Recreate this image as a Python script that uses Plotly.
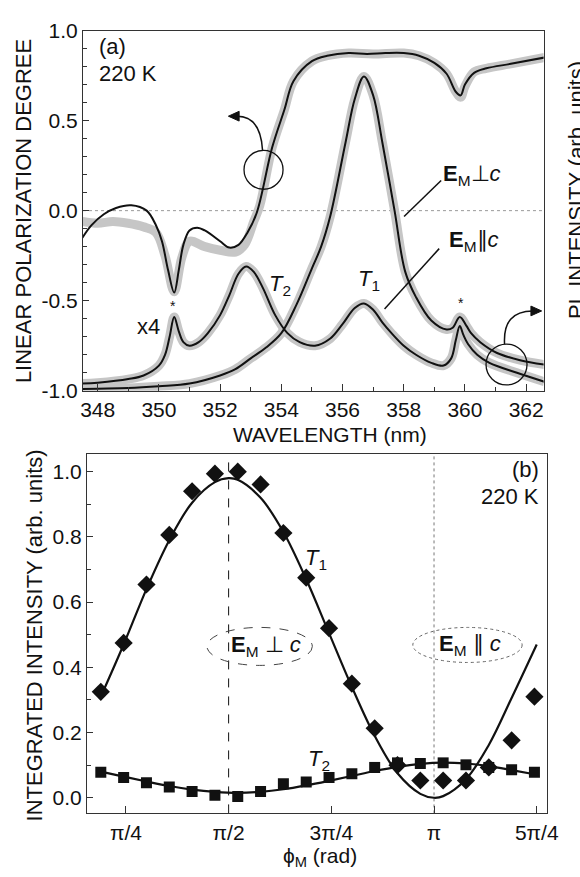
import numpy as np
import plotly.graph_objects as go

W, H = 580, 877
FONT = "Liberation Sans"

# ---------------- panel (a) data ----------------
# linear polarization degree: measured (grey) and fit (black)
lpd_data_wl = [347.5, 348.0, 348.5, 349.0, 349.5, 349.9, 350.2, 350.5, 350.75, 351.0, 351.5, 352.0,
               352.5, 352.8, 353.1, 353.3, 353.7, 354.1, 354.4, 355.0, 355.5, 356.2, 357.0, 358.0,
               358.5, 359.0, 359.4, 359.7, 359.86, 360.0, 360.3, 360.7, 361.5, 362.6]
lpd_data = [-0.06, -0.07, -0.06, -0.07, -0.09, -0.12, -0.25, -0.45, -0.26, -0.17, -0.20, -0.22,
            -0.23, -0.19, -0.06, 0.03, 0.35, 0.56, 0.72, 0.83, 0.86, 0.875, 0.87, 0.875,
            0.86, 0.82, 0.76, 0.66, 0.63, 0.69, 0.77, 0.79, 0.815, 0.85]

lpd_fit_wl = [347.5, 347.8, 348.2, 348.6, 349.1, 349.6, 349.9, 350.1, 350.3, 350.5, 350.65, 350.8,
              351.0, 351.25, 351.5, 352.0, 352.3, 352.6, 352.9, 353.2, 353.7, 354.1, 354.4, 355.0,
              355.5, 356.2, 356.8, 357.4, 358.0, 358.5, 359.0, 359.4, 359.7, 359.86, 360.0, 360.3,
              360.7, 361.5, 362.6]
lpd_fit = [-0.15, -0.08, -0.02, 0.015, 0.03, 0.0, -0.08, -0.17, -0.33, -0.455, -0.33, -0.19,
           -0.11, -0.095, -0.11, -0.17, -0.205, -0.19, -0.12, -0.01, 0.35, 0.56, 0.72, 0.83,
           0.86, 0.875, 0.87, 0.875, 0.875, 0.86, 0.82, 0.76, 0.66, 0.64, 0.70, 0.765,
           0.79, 0.815, 0.85]

# PL intensity (arb. units), E_M perpendicular to c
pl_perp_wl = [347.5, 348.0, 349.0, 350.0, 351.0, 352.0, 352.5, 353.0, 353.5, 354.0, 354.5, 355.0,
              355.3, 355.6, 356.1, 356.4, 356.7, 357.0, 357.3, 357.7, 358.05, 358.4, 358.9, 359.4,
              359.6, 359.83, 360.05, 360.2, 360.5, 361.05, 361.8, 362.6]
pl_perp = [0.005, 0.006, 0.0075, 0.0125, 0.02, 0.0425, 0.06, 0.09, 0.12, 0.16, 0.24, 0.34,
           0.40, 0.485, 0.69, 0.81, 0.8725, 0.82, 0.69, 0.50, 0.33, 0.26, 0.195, 0.17,
           0.175, 0.205, 0.18, 0.16, 0.135, 0.105, 0.085, 0.0725]

# PL intensity (arb. units), E_M parallel to c (x4)
pl_par_wl = [347.5, 348.0, 349.0, 349.5, 350.0, 350.2, 350.35, 350.5, 350.65, 350.8, 351.0, 351.3,
             351.6, 352.0, 352.3, 352.6, 352.85, 353.1, 353.4, 353.8, 354.2, 354.6, 355.1, 355.6,
             356.0, 356.4, 356.7, 357.0, 357.3, 357.6, 358.0, 358.4, 358.9, 359.3, 359.55, 359.7,
             359.83, 359.95, 360.1, 360.4, 360.8, 361.7, 362.6]
pl_par = [0.02, 0.0225, 0.0325, 0.0425, 0.07, 0.10, 0.15, 0.205, 0.165, 0.135, 0.125, 0.135,
          0.16, 0.21, 0.265, 0.325, 0.345, 0.33, 0.285, 0.21, 0.16, 0.135, 0.125, 0.145,
          0.185, 0.23, 0.2425, 0.225, 0.19, 0.16, 0.125, 0.10, 0.0775, 0.07, 0.09, 0.14,
          0.18, 0.155, 0.13, 0.10, 0.0775, 0.05, 0.025]

wl_ticks = [348, 350, 352, 354, 356, 358, 360, 362]
lpd_ticks = [-1.0, -0.5, 0.0, 0.5, 1.0]
lpd_ticktext = ["-1.0", "-0.5", "0.0", "0.5", "1.0"]

# ---------------- panel (b) data ----------------
phi_deg = [34, 44, 54, 64, 74, 84, 94, 104, 114, 124, 134, 144, 154, 164, 174, 184, 194, 204, 214, 224]
t1_int = [0.325, 0.475, 0.654, 0.806, 0.94, 0.994, 1.0, 0.961, 0.812, 0.675, 0.52, 0.35,
          0.213, 0.10, 0.053, 0.053, 0.053, 0.093, 0.176, 0.31]
t2_int = [0.078, 0.062, 0.046, 0.033, 0.019, 0.008, 0.004, 0.019, 0.043, 0.048, 0.062, 0.074,
          0.093, 0.107, 0.105, 0.107, 0.101, 0.093, 0.086, 0.078]

t1_fit_deg = [34, 44, 54, 64, 74, 84, 90, 94, 104, 114, 124, 134, 144, 154, 164, 174, 180,
              184, 194, 204, 214, 225]
t1_fit = [0.31, 0.47, 0.64, 0.79, 0.905, 0.968, 0.98, 0.975, 0.92, 0.815, 0.67, 0.505, 0.34,
          0.19, 0.075, 0.012, 0.0, 0.005, 0.057, 0.162, 0.306, 0.47]
t2_fit_deg = [34, 44, 54, 64, 74, 84, 94, 104, 114, 124, 134, 144, 154, 164, 174, 184, 194,
              204, 214, 224]
t2_fit = [0.08, 0.065, 0.05, 0.036, 0.025, 0.018, 0.015, 0.018, 0.026, 0.038, 0.052, 0.067,
          0.082, 0.095, 0.104, 0.108, 0.105, 0.097, 0.085, 0.072]

phi_tickvals = [np.pi / 4, np.pi / 2, 3 * np.pi / 4, np.pi, 5 * np.pi / 4]
phi_ticktext = ["π/4", "π/2", "3π/4", "π", "5π/4"]
int_ticks = [0.0, 0.2, 0.4, 0.6, 0.8, 1.0]
int_ticktext = ["0.0", "0.2", "0.4", "0.6", "0.8", "1.0"]

GREY = "#c6c6c6"
BLACK = "#111111"


def PX(x):
    return x / W


def PY(y):
    return 1 - y / H


fig = go.Figure()

# panel (a) traces
fig.add_trace(go.Scatter(x=pl_perp_wl, y=pl_perp, xaxis="x", yaxis="y3", mode="lines",
                         line=dict(color=GREY, width=9, shape="spline"), hoverinfo="skip"))
fig.add_trace(go.Scatter(x=pl_par_wl, y=pl_par, xaxis="x", yaxis="y3", mode="lines",
                         line=dict(color=GREY, width=9, shape="spline"), hoverinfo="skip"))
fig.add_trace(go.Scatter(x=lpd_data_wl, y=lpd_data, xaxis="x", yaxis="y", mode="lines",
                         line=dict(color=GREY, width=9, shape="spline"), hoverinfo="skip"))
fig.add_trace(go.Scatter(x=pl_perp_wl, y=pl_perp, xaxis="x", yaxis="y3", mode="lines",
                         line=dict(color=BLACK, width=2, shape="spline")))
fig.add_trace(go.Scatter(x=pl_par_wl, y=pl_par, xaxis="x", yaxis="y3", mode="lines",
                         line=dict(color=BLACK, width=2, shape="spline")))
fig.add_trace(go.Scatter(x=lpd_fit_wl, y=lpd_fit, xaxis="x", yaxis="y", mode="lines",
                         line=dict(color=BLACK, width=2, shape="spline")))

# panel (b) traces
rad = lambda d: np.deg2rad(np.array(d, dtype=float))
fig.add_trace(go.Scatter(x=rad(t1_fit_deg), y=t1_fit, xaxis="x2", yaxis="y2", mode="lines",
                         line=dict(color=BLACK, width=2.2, shape="spline")))
fig.add_trace(go.Scatter(x=rad(t2_fit_deg), y=t2_fit, xaxis="x2", yaxis="y2", mode="lines",
                         line=dict(color=BLACK, width=2.2, shape="spline")))
fig.add_trace(go.Scatter(x=rad(phi_deg), y=t1_int, xaxis="x2", yaxis="y2", mode="markers",
                         marker=dict(symbol="diamond", size=14, color=BLACK)))
fig.add_trace(go.Scatter(x=rad(phi_deg), y=t2_int, xaxis="x2", yaxis="y2", mode="markers",
                         marker=dict(symbol="square", size=11, color=BLACK)))

tickfont = dict(family=FONT, size=21, color=BLACK)
axcommon = dict(showline=True, linecolor="#333", linewidth=1, mirror=True, showgrid=False,
                zeroline=False, ticks="inside", tickcolor="#333", tickfont=tickfont)

fig.update_layout(
    width=W, height=H, margin=dict(l=0, r=0, t=0, b=0),
    paper_bgcolor="white", plot_bgcolor="white", showlegend=False,
    font=dict(family=FONT, size=22, color=BLACK),
    xaxis=dict(domain=[PX(83), PX(555)], anchor="y", range=[347.52, 362.57],
               tickvals=wl_ticks, ticklen=7,
               minor=dict(dtick=1, tick0=347, ticks="inside", ticklen=4, tickcolor="#333"),
               **axcommon),
    yaxis=dict(domain=[PY(389), PY(19)], anchor="x", range=[-1, 1],
               tickvals=lpd_ticks, ticktext=lpd_ticktext, ticklen=6,
               minor=dict(dtick=0.1, tick0=0, ticks="inside", ticklen=4, tickcolor="#333"),
               **axcommon),
    yaxis3=dict(overlaying="y", anchor="x", range=[0, 1], visible=False),
    xaxis2=dict(domain=[PX(87), PX(558)], anchor="y2", range=[0.487, 4.002],
                tickvals=phi_tickvals, ticktext=phi_ticktext, ticklen=7, **axcommon),
    yaxis2=dict(domain=[PY(823), PY(454)], anchor="x2", range=[-0.048, 1.054],
                tickvals=int_ticks, ticktext=int_ticktext, ticklen=6,
                minor=dict(dtick=0.1, tick0=0, ticks="inside", ticklen=4, tickcolor="#333"),
                **axcommon),
)

shapes = []
# zero line in (a)
shapes.append(dict(type="line", xref="x domain", yref="y", x0=0, x1=1, y0=0, y1=0,
                   line=dict(color="#999", width=1, dash="dot"), layer="below"))
# vertical reference lines in (b)
shapes.append(dict(type="line", xref="x2", yref="y2 domain", x0=np.pi / 2, x1=np.pi / 2, y0=0, y1=1,
                   line=dict(color=BLACK, width=1, dash="dash"), layer="below"))
shapes.append(dict(type="line", xref="x2", yref="y2 domain", x0=np.pi, x1=np.pi, y0=0, y1=1,
                   line=dict(color="#777", width=1, dash="dot"), layer="below"))
# circles and curved arrows in (a)
shapes.append(dict(type="circle", xref="paper", yref="paper", x0=PX(248), x1=PX(288),
                   y0=PY(182), y1=PY(142), line=dict(color=BLACK, width=1.3)))
shapes.append(dict(type="path", xref="paper", yref="paper",
                   path=f"M {PX(267)},{PY(142)} Q {PX(265)},{PY(107)} {PX(241)},{PY(107)}",
                   line=dict(color=BLACK, width=1.5)))
shapes.append(dict(type="path", xref="paper", yref="paper",
                   path=f"M {PX(232)},{PY(107)} L {PX(243)},{PY(102)} L {PX(243)},{PY(112)} Z",
                   fillcolor=BLACK, line=dict(color=BLACK, width=1)))
shapes.append(dict(type="circle", xref="paper", yref="paper", x0=PX(496), x1=PX(538),
                   y0=PY(383), y1=PY(341), line=dict(color=BLACK, width=1.3)))
shapes.append(dict(type="path", xref="paper", yref="paper",
                   path=f"M {PX(515)},{PY(341)} Q {PX(513)},{PY(307)} {PX(544)},{PY(307)}",
                   line=dict(color=BLACK, width=1.5)))
shapes.append(dict(type="path", xref="paper", yref="paper",
                   path=f"M {PX(553)},{PY(307)} L {PX(542)},{PY(302)} L {PX(542)},{PY(312)} Z",
                   fillcolor=BLACK, line=dict(color=BLACK, width=1)))
# label pointer lines in (a)
shapes.append(dict(type="line", xref="paper", yref="paper", x0=PX(412), y0=PY(210), x1=PX(450), y1=PY(173),
                   line=dict(color=BLACK, width=1.5)))
shapes.append(dict(type="line", xref="paper", yref="paper", x0=PX(392), y0=PY(305), x1=PX(448), y1=PY(243),
                   line=dict(color=BLACK, width=1.5)))
# ellipses in (b)
shapes.append(dict(type="circle", xref="paper", yref="paper", x0=PX(210), x1=PX(318),
                   y0=PY(671), y1=PY(632), line=dict(color="#444", width=1, dash="dash")))
shapes.append(dict(type="circle", xref="paper", yref="paper", x0=PX(421), x1=PX(533),
                   y0=PY(668), y1=PY(632), line=dict(color="#666", width=1, dash="dot")))
fig.update_layout(shapes=shapes)


def ann(text, x, y, size=22, xanchor="center", angle=0):
    return dict(text=text, x=PX(x), y=PY(y), xref="paper", yref="paper", showarrow=False,
                xanchor=xanchor, yanchor="middle", textangle=angle,
                font=dict(family=FONT, size=size, color=BLACK))


annotations = [
    ann("(a)", 97, 35, xanchor="left"),
    ann("220 K", 97, 63, xanchor="left"),
    ann("<b>E</b><sub>M</sub>⊥<i>c</i>", 482, 167),
    ann("<b>E</b><sub>M</sub>∥<i>c</i>", 484, 235),
    ann("<i>T</i><sub>2</sub>", 285, 280),
    ann("<i>T</i><sub>1</sub>", 376, 275),
    ann("*", 175, 302, size=14),
    ann("*", 470, 299, size=14),
    ann("x4", 150, 323),
    ann("WAVELENGTH (nm)", 336, 434, size=21),
    ann("LINEAR POLARIZATION DEGREE", 22, 204, angle=-90),
    ann("PL INTENSITY (arb. units)", 588, 183, angle=-90),
    ann("(b)", 552, 470, xanchor="right"),
    ann("220 K", 552, 498, xanchor="right"),
    ann("<i>T</i><sub>1</sub>", 322, 562),
    ann("<i>T</i><sub>2</sub>", 325, 768),
    ann("<b>E</b><sub>M</sub> ⊥ <i>c</i>", 271, 651),
    ann("<b>E</b><sub>M</sub> ∥ <i>c</i>", 480, 650),
    ann("ϕ<sub>M</sub> (rad)", 326, 868, size=21),
    ann("INTEGRATED INTENSITY (arb. units)", 33, 640, angle=-90),
]
fig.update_layout(annotations=annotations)

fig.write_html("out.html", config={"displayModeBar": False},
               post_script="document.body.style.margin='0';document.body.style.overflow='hidden';")
